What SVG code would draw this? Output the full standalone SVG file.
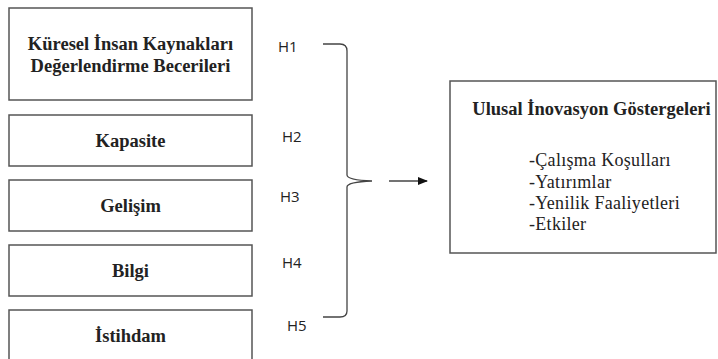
<svg xmlns="http://www.w3.org/2000/svg" width="718" height="359" viewBox="0 0 718 359">
<style>
.box{fill:#fff;stroke:#555;stroke-width:1.5}
.t{font-family:'Liberation Serif','Times New Roman','DejaVu Serif',serif;font-size:18.5px;font-weight:bold;fill:#222;text-anchor:middle}
.l{font-family:'Liberation Serif','Times New Roman','DejaVu Serif',serif;font-size:18px;letter-spacing:0.3px;fill:#222}
.h{font-family:'Open Sans','Liberation Sans',sans-serif;font-size:15px;fill:#222}
.c{fill:none;stroke:#444;stroke-width:1.3}
</style>
<defs>
<marker id="ah" markerWidth="10" markerHeight="8" refX="9" refY="4" orient="auto" markerUnits="userSpaceOnUse">
<path d="M0,0 L10,4 L0,8 Z" fill="#111"/>
</marker>
</defs>
<rect width="718" height="359" fill="#fff"/>
<g id="n1"><rect class="box" x="9" y="8" width="243" height="92"/>
<text class="t" x="130.5" y="50">Küresel İnsan Kaynakları</text>
<text class="t" x="130.5" y="72">Değerlendirme Becerileri</text></g>
<g id="n2"><rect class="box" x="9" y="115" width="243" height="51"/><text class="t" x="130.5" y="147">Kapasite</text></g>
<g id="n3"><rect class="box" x="9" y="180" width="243" height="51"/><text class="t" x="130.5" y="212">Gelişim</text></g>
<g id="n4"><rect class="box" x="9" y="245" width="243" height="51"/><text class="t" x="130.5" y="277">Bilgi</text></g>
<g id="n5"><rect class="box" x="9" y="310" width="243" height="60"/><text class="t" x="130.5" y="342">İstihdam</text></g>
<g id="n6"><rect class="box" x="450" y="81" width="266" height="172"/>
<text class="t" x="591.5" y="115">Ulusal İnovasyon Göstergeleri</text>
<text class="l" x="529" y="166">-Çalışma Koşulları</text>
<text class="l" x="529" y="188">-Yatırımlar</text>
<text class="l" x="529" y="209">-Yenilik Faaliyetleri</text>
<text class="l" x="529" y="230">-Etkiler</text></g>
<g id="labels">
<text class="h" x="278" y="52">H1</text>
<text class="h" x="282" y="142">H2</text>
<text class="h" x="280" y="202">H3</text>
<text class="h" x="282" y="268">H4</text>
<text class="h" x="287" y="331">H5</text>
</g>
<g id="connectors">
<path class="c" d="M323,44 L340,44 Q347,44 347,51 L347,175 Q347,180 372,181 Q347,182 347,187 L347,311 Q347,317 340,317 L323,317"/>
<line class="c" x1="389" y1="181" x2="427" y2="181" stroke="#111" marker-end="url(#ah)"/>
</g>
</svg>
